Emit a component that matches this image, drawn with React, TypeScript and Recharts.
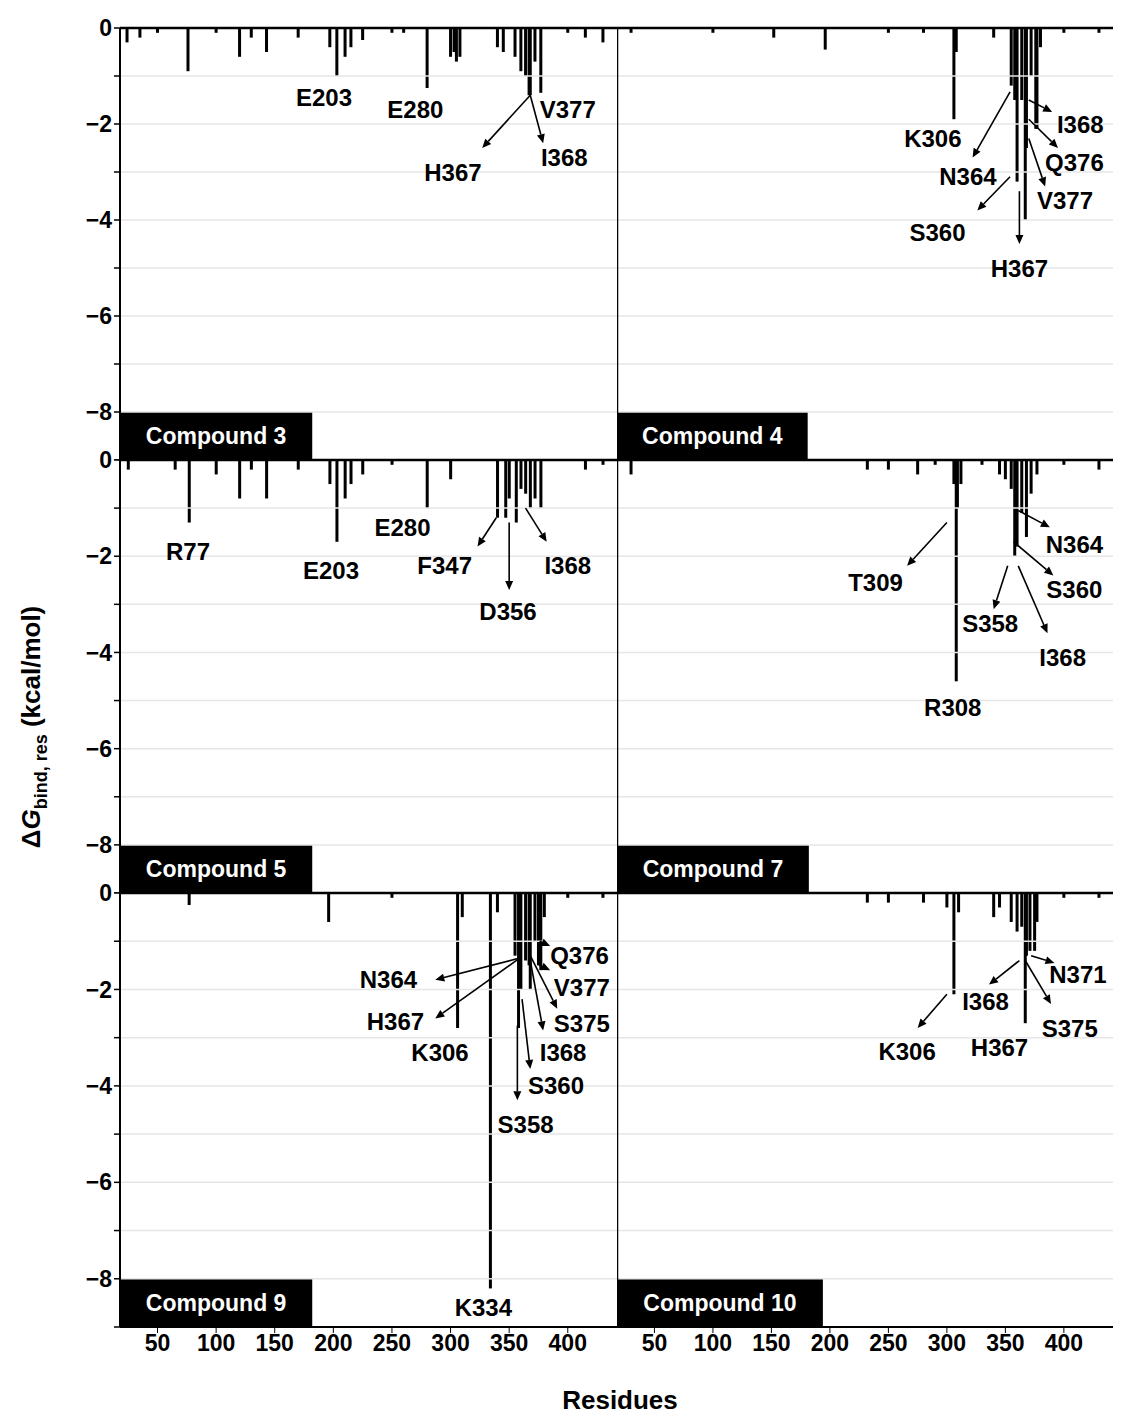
import React from "react";
import { BarChart, Bar, XAxis, YAxis, ReferenceLine, ReferenceArea, ReferenceDot } from "recharts";

const FONT = "'Liberation Sans', Arial, sans-serif";

// [residue, ΔG] spikes per compound
const c3: [number, number][] = [[24, -0.3], [35, -0.2], [50, -0.1], [76, -0.9], [100, -0.1], [120, -0.6], [130, -0.2], [143, -0.5], [170, -0.2], [197, -0.4], [203, -1.0], [210, -0.6], [215, -0.4], [225, -0.25], [250, -0.1], [260, -0.1], [280, -1.25], [300, -0.6], [303, -0.5], [305, -0.7], [308, -0.6], [340, -0.4], [345, -0.5], [355, -0.6], [360, -0.9], [364, -1.0], [367, -1.4], [368, -1.4], [372, -0.7], [377, -1.35], [400, -0.1], [415, -0.2], [430, -0.3]];
const c4: [number, number][] = [[30, -0.1], [100, -0.1], [152, -0.2], [196, -0.45], [250, -0.1], [280, -0.1], [306, -1.9], [308, -0.5], [340, -0.2], [355, -1.2], [358, -1.5], [360, -3.2], [364, -1.5], [367, -4.0], [368, -2.5], [372, -1.0], [376, -2.1], [377, -2.1], [380, -0.4], [400, -0.1], [430, -0.1]];
const c5: [number, number][] = [[25, -0.2], [65, -0.2], [77, -1.3], [100, -0.3], [120, -0.8], [130, -0.2], [143, -0.8], [170, -0.2], [197, -0.5], [203, -1.7], [210, -0.8], [215, -0.5], [225, -0.3], [250, -0.1], [280, -1.0], [300, -0.4], [340, -1.2], [347, -1.2], [350, -0.8], [356, -1.3], [360, -0.6], [364, -0.7], [368, -1.0], [372, -0.8], [377, -1.0], [415, -0.2], [430, -0.1]];
const c7: [number, number][] = [[30, -0.3], [232, -0.2], [250, -0.2], [275, -0.3], [290, -0.1], [306, -0.5], [308, -4.6], [309, -1.0], [312, -0.5], [330, -0.1], [345, -0.3], [350, -0.4], [355, -0.6], [358, -2.0], [360, -1.8], [364, -1.1], [368, -1.6], [372, -0.7], [377, -0.3], [400, -0.1], [430, -0.2]];
const c9: [number, number][] = [[77, -0.25], [196, -0.6], [250, -0.1], [306, -2.8], [310, -0.5], [334, -8.2], [340, -0.4], [355, -1.3], [358, -2.8], [360, -2.0], [364, -1.4], [367, -1.5], [368, -2.0], [372, -1.0], [375, -1.5], [376, -1.5], [377, -1.6], [380, -0.5], [400, -0.1], [430, -0.1]];
const c10: [number, number][] = [[232, -0.2], [250, -0.2], [280, -0.2], [300, -0.3], [306, -2.1], [310, -0.4], [340, -0.5], [345, -0.3], [355, -0.6], [360, -0.8], [364, -0.7], [367, -2.7], [368, -1.3], [371, -1.2], [375, -1.2], [377, -0.6], [400, -0.1], [430, -0.1]];

// labels: [text, x, y]
const l3: [string, number, number][] = [["E203", 192, -1.44], ["E280", 270, -1.7], ["V377", 400, -1.7], ["H367", 302, -3.0], ["I368", 397, -2.7]];
const l4: [string, number, number][] = [["K306", 288, -2.3], ["N364", 318, -3.1], ["S360", 292, -4.25], ["H367", 362, -5.0], ["V377", 401, -3.6], ["Q376", 409, -2.8], ["I368", 414, -2.0]];
const l5: [string, number, number][] = [["R77", 76, -1.9], ["E203", 198, -2.3], ["E280", 259, -1.4], ["F347", 295, -2.2], ["D356", 349, -3.15], ["I368", 400, -2.2]];
const l7: [string, number, number][] = [["T309", 239, -2.55], ["R308", 305, -5.15], ["S358", 337, -3.4], ["N364", 409, -1.75], ["S360", 409, -2.7], ["I368", 399, -4.1]];
const l9: [string, number, number][] = [["N364", 247, -1.8], ["H367", 253, -2.67], ["K306", 291, -3.3], ["S358", 364, -4.8], ["S360", 390, -4.0], ["I368", 396, -3.3], ["S375", 412, -2.7], ["V377", 412, -1.95], ["Q376", 410, -1.3], ["K334", 328, -8.6]];
const l10: [string, number, number][] = [["K306", 266, -3.28], ["I368", 333, -2.25], ["H367", 345, -3.2], ["S375", 405, -2.8], ["N371", 412, -1.7]];

// arrows: [x1, y1, x2, y2]
const a3: number[][] = [[368, -1.4, 327, -2.5], [368, -1.4, 379, -2.4]];
const a4: number[][] = [[354, -1.33, 322, -2.7], [354, -3.1, 326, -3.8], [362, -3.4, 362, -4.5], [370, -1.5, 390, -1.75], [370, -1.9, 395, -2.5], [370, -2.3, 384, -3.3]];
const a5: number[][] = [[339, -1.2, 323, -1.8], [350, -1.3, 350, -2.7], [364, -1.0, 382, -1.7]];
const a7: number[][] = [[300, -1.3, 266, -2.2], [352, -2.2, 340, -3.1], [357, -1.7, 391, -2.4], [361, -1.05, 388, -1.4], [361, -2.2, 386, -3.6]];
const a9: number[][] = [[359, -1.35, 287, -1.8], [359, -1.35, 287, -2.6], [357, -2.75, 357, -4.3], [361, -2.2, 368, -3.65], [368, -1.4, 379, -2.85], [368, -1.3, 391, -2.4], [376, -1.5, 385, -1.6], [376, -1.0, 385, -1.1]];
const a10: number[][] = [[300, -2.1, 275, -2.8], [362, -1.4, 336, -1.9], [367, -1.4, 389, -2.3], [372, -1.3, 392, -1.45]];

const Y_TICKS = [0, -1, -2, -3, -4, -5, -6, -7, -8, -9];
const X_TICKS = [50, 100, 150, 200, 250, 300, 350, 400];
const GRID = [-1, -2, -3, -4, -5, -6, -7, -8];

const Arrow = (p: any) => {
  const { x1, y1, x2, y2 } = p;
  const ang = Math.atan2(y2 - y1, x2 - x1);
  const L = 9, W = 4;
  const bx = x2 - L * Math.cos(ang), by = y2 - L * Math.sin(ang);
  const pts = `${x2},${y2} ${bx + W * Math.sin(ang)},${by - W * Math.cos(ang)} ${bx - W * Math.sin(ang)},${by + W * Math.cos(ang)}`;
  return (
    <g>
      <line x1={x1} y1={y1} x2={bx} y2={by} stroke="#000" strokeWidth={1.6} />
      <polygon points={pts} fill="#000" />
    </g>
  );
};

const Spike = (p: any) => {
  const { x, y, width, height } = p;
  if (height == null) return null;
  const cx = x + width / 2;
  const top = Math.min(y, y + height);
  return <rect x={cx - 1.5} y={top} width={3} height={Math.abs(height)} fill="#000" />;
};

function Panel({ data, labels, arrows, name, boxEnd, left, top, width, height, marginTop, showY, showX, showZero }: any) {
  const rows = data.map(([r, v]: number[]) => ({ r, v }));
  return (
    <div style={{ position: "absolute", left, top }}>
      <BarChart width={width} height={height} data={rows} margin={{ top: marginTop, right: 0, bottom: 0, left: 0 }}>
        {GRID.map((g) => (
          <ReferenceLine key={g} y={g} stroke="#e6e6e6" strokeWidth={1.5} />
        ))}
        <XAxis dataKey="r" type="number" domain={[18, 442]} ticks={X_TICKS} allowDataOverflow hide={!showX}
          height={50} tickSize={6} axisLine={{ stroke: "#000", strokeWidth: 2 }} tickLine={{ stroke: "#000" }}
          tick={{ fill: "#000", fontSize: 23, fontWeight: 700, fontFamily: FONT }} />
        <YAxis type="number" domain={[-9, 0]} ticks={Y_TICKS} allowDataOverflow hide={!showY} width={120}
          interval={0} tickSize={6} axisLine={{ stroke: "#000", strokeWidth: 2 }} tickLine={{ stroke: "#000", strokeWidth: 1.5 }}
          tickFormatter={(v: number) => (v % 2 !== 0 || v === -9 || (v === 0 && !showZero) ? "" : v === 0 ? "0" : "\u2212" + Math.abs(v))}
          tick={{ fill: "#000", fontSize: 23, fontWeight: 700, fontFamily: FONT }} />
        <Bar dataKey="v" fill="#000" shape={Spike} isAnimationActive={false} />
        <ReferenceLine y={0} stroke="#000" strokeWidth={2.5} />
        {!showY && <ReferenceLine x={18} stroke="#000" strokeWidth={2.5} />}
        <ReferenceArea x1={18} x2={boxEnd} y1={-9} y2={-8} fill="#000" fillOpacity={1} stroke="none"
          label={{ value: name, fill: "#fff", fontSize: 23, fontWeight: 700, fontFamily: FONT, position: "center" }} />
        {arrows.map((a: number[], i: number) => (
          <ReferenceLine key={"a" + i} segment={[{ x: a[0], y: a[1] }, { x: a[2], y: a[3] }]} shape={Arrow} />
        ))}
        {labels.map(([t, x, y]: [string, number, number]) => (
          <ReferenceDot key={t + x} x={x} y={y} r={0} stroke="none"
            label={{ value: t, position: "center", fill: "#000", fontSize: 24, fontWeight: 700, fontFamily: FONT }} />
        ))}
      </BarChart>
    </div>
  );
}

export default function App() {
  return (
    <div style={{ position: "absolute", left: 0, top: 0, width: 1129, height: 1426, background: "#fff", fontFamily: FONT }}>
      <Panel data={c3} labels={l3} arrows={a3} name="Compound 3" boxEnd={182} left={0} top={0} width={617} height={460} marginTop={28} showY showZero />
      <Panel data={c4} labels={l4} arrows={a4} name="Compound 4" boxEnd={181} left={617} top={0} width={496} height={460} marginTop={28} />
      <Panel data={c5} labels={l5} arrows={a5} name="Compound 5" boxEnd={182} left={0} top={440} width={617} height={453} marginTop={20} showY showZero />
      <Panel data={c7} labels={l7} arrows={a7} name="Compound 7" boxEnd={182} left={617} top={440} width={496} height={453} marginTop={20} />
      <Panel data={c9} labels={l9} arrows={a9} name="Compound 9" boxEnd={182} left={0} top={873} width={617} height={504} marginTop={20} showY showX showZero />
      <Panel data={c10} labels={l10} arrows={a10} name="Compound 10" boxEnd={194} left={617} top={873} width={496} height={504} marginTop={20} showX />
      <div style={{ position: "absolute", left: 0, top: 1385, width: 1240, textAlign: "center", fontSize: 26, fontWeight: 700 }}>Residues</div>
      <div style={{ position: "absolute", left: 34, top: 727, transform: "translate(-50%, -50%) rotate(-90deg)", whiteSpace: "nowrap", fontSize: 26, fontWeight: 700 }}>
        Δ<i>G</i><sub style={{ fontSize: 18 }}>bind, res</sub> (kcal/mol)
      </div>
    </div>
  );
}
